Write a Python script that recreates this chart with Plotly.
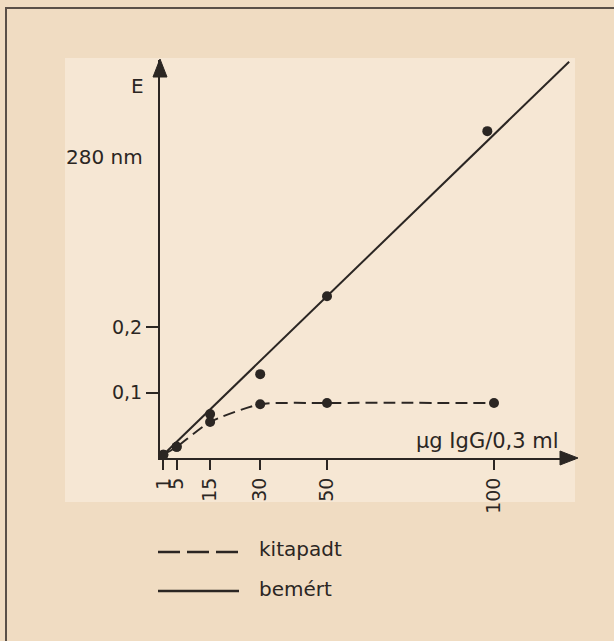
import plotly.graph_objects as go

# ---- data ----
conc_ticks = [1, 5, 15, 30, 50, 100]
conc_tick_labels = ["1", "5", "15", "30", "50", "100"]
E_ticks = [0.1, 0.2]
E_tick_labels = ["0,1", "0,2"]

bemert_x = [1, 5, 15, 30, 50, 98]
bemert_y = [0.005, 0.017, 0.067, 0.128, 0.247, 0.499]

kitapadt_x = [1, 5, 15, 30, 50, 100]
kitapadt_y = [0.005, 0.017, 0.055, 0.082, 0.084, 0.084]

fit_x = [1, 122.5]
fit_y = [0.005, 0.605]

# ---- layout geometry (pixels) ----
W, H = 614, 641
L, R, T, B = 160, 39, 60, 183
PW, PH = W - L - R, H - T - B


def px(x):
    return (x - L) / PW


def py(y):
    return (H - B - y) / PH


INK = "#2b2623"
OUTER = "#f0dcc2"
INNER = "#f6e7d4"
FONT = "DejaVu Sans"

fig = go.Figure()

fig.add_trace(go.Scatter(
    x=fit_x, y=fit_y, mode="lines",
    line=dict(color=INK, width=2), cliponaxis=False, showlegend=False,
    hoverinfo="skip"))
fig.add_trace(go.Scatter(
    x=bemert_x, y=bemert_y, mode="markers", name="bemért",
    marker=dict(color=INK, size=10), cliponaxis=False, showlegend=False))
fig.add_trace(go.Scatter(
    x=kitapadt_x, y=kitapadt_y, mode="lines+markers", name="kitapadt",
    line=dict(color=INK, width=2, dash="12px,6px", shape="spline", smoothing=0.6),
    marker=dict(color=INK, size=10), cliponaxis=False, showlegend=False))

shapes = [
    # lighter inner paper area
    dict(type="rect", xref="paper", yref="paper", layer="below",
         x0=px(65), x1=px(575), y0=py(58), y1=py(502),
         fillcolor=INNER, line=dict(width=0)),
    # outer frame
    dict(type="rect", xref="paper", yref="paper", layer="below",
         x0=px(6), x1=px(640), y0=py(8), y1=py(700),
         line=dict(color="#5a5048", width=2)),
    # arrowheads
    dict(type="path", xref="paper", yref="paper",
         path=f"M {px(160)} {py(59)} L {px(153)} {py(77)} L {px(167)} {py(77)} Z",
         fillcolor=INK, line=dict(color=INK, width=1)),
    dict(type="path", xref="paper", yref="paper",
         path=f"M {px(578)} {py(458)} L {px(560)} {py(451)} L {px(560)} {py(465)} Z",
         fillcolor=INK, line=dict(color=INK, width=1)),
    # legend samples
    dict(type="line", xref="paper", yref="paper",
         x0=px(158), x1=px(239), y0=py(552), y1=py(552),
         line=dict(color=INK, width=2.5, dash="22px,7px")),
    dict(type="line", xref="paper", yref="paper",
         x0=px(158), x1=px(239), y0=py(591), y1=py(591),
         line=dict(color=INK, width=2.5)),
]


def label(text, x, y, xanchor="center", size=20):
    return dict(text=text, x=px(x), y=py(y), xref="paper", yref="paper",
                xanchor=xanchor, yanchor="middle", showarrow=False,
                font=dict(family=FONT, size=size, color=INK))


annotations = [
    label("E", 137, 86),
    label("280 nm", 104, 157),
    label("µg IgG/0,3 ml", 561, 441, xanchor="right", size=21),
    label("kitapadt", 257, 549, xanchor="left"),
    label("bemért", 257, 589, xanchor="left"),
]

fig.update_layout(
    width=W, height=H,
    margin=dict(l=L, r=R, t=T, b=B),
    paper_bgcolor=OUTER, plot_bgcolor="rgba(0,0,0,0)",
    shapes=shapes, annotations=annotations,
    font=dict(family=FONT, size=19, color=INK),
    xaxis=dict(range=[0, (575 - L) / 3.34], showgrid=False, zeroline=False,
               showline=True, linecolor=INK, linewidth=2,
               tickmode="array", tickvals=conc_ticks, ticktext=conc_tick_labels,
               ticks="outside", ticklen=10, tickwidth=1.5, tickcolor=INK,
               tickangle=-90, tickfont=dict(family=FONT, size=19, color=INK)),
    yaxis=dict(range=[0, (458 - 60) / 655], showgrid=False, zeroline=False,
               showline=True, linecolor=INK, linewidth=2,
               tickmode="array", tickvals=E_ticks, ticktext=E_tick_labels,
               ticks="outside", ticklen=12, tickwidth=1.5, tickcolor=INK,
               tickfont=dict(family=FONT, size=19, color=INK)),
)

fig.write_html(
    "out.html",
    config={"displayModeBar": False},
    post_script="document.body.style.margin='0';document.body.style.background='%s';" % OUTER,
)
